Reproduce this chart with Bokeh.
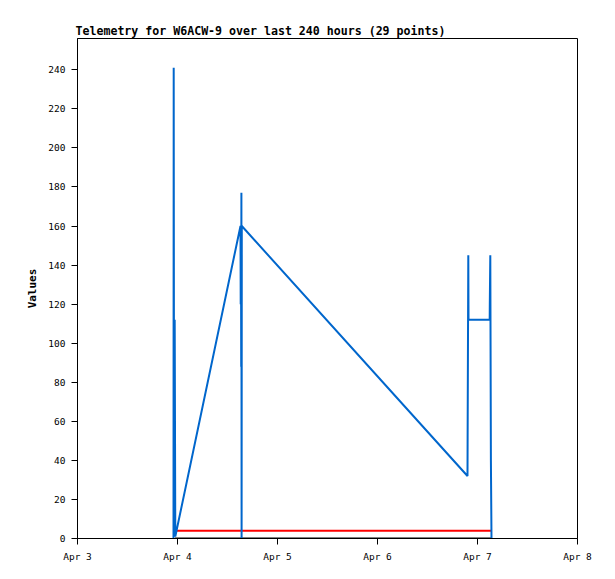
from datetime import datetime, timedelta
from bokeh.plotting import figure
from bokeh.models import FixedTicker, DatetimeTickFormatter, Range1d
from bokeh.embed import file_html
from bokeh.resources import INLINE

base = datetime(2024, 4, 3)

# blue series: (days after Apr 3 00:00, value)
blue_days = [0.960, 0.962, 0.966, 0.972, 0.978, 1.630, 1.632, 1.635, 1.637, 1.639, 1.641, 1.643,
             3.900, 3.901, 3.908, 3.910, 4.122, 4.123, 4.128, 4.134, 4.140]
blue_vals = [0, 241, 1, 112, 1, 160, 120, 160, 88, 177, 0, 160,
             32, 48, 145, 112, 112, 120, 145, 40, 0]

red_days = [0.990, 4.140]
red_vals = [4, 4]

black_days = [0.975, 4.140]
black_vals = [0, 0]

tick_days = [0, 1, 2, 3, 4, 5]
y_ticks = [0, 20, 40, 60, 80, 100, 120, 140, 160, 180, 200, 220, 240]

def to_dt(days):
    return [base + timedelta(days=d) for d in days]

def ms(d):
    return (base + timedelta(days=d) - datetime(1970, 1, 1)).total_seconds() * 1000

p = figure(width=600, height=571, output_backend="svg", toolbar_location=None,
           x_axis_type="datetime",
           x_range=Range1d(ms(0), ms(5)), y_range=Range1d(0, 256),
           min_border_left=77, min_border_right=23, min_border_top=38, min_border_bottom=33,
           title="Telemetry for W6ACW-9 over last 240 hours (29 points)")

p.line(to_dt(black_days), black_vals, line_color="black", line_width=2)
p.line(to_dt(red_days), red_vals, line_color="#FF0000", line_width=2)
p.line(to_dt(blue_days), blue_vals, line_color="#0066CC", line_width=2)

p.title.text_font = "DejaVu Sans Mono"
p.title.text_font_size = "11.6px"
p.title.text_font_style = "bold"
p.title.text_color = "black"
p.title.align = "left"
p.title.offset = -2
p.title.standoff = 2

p.xgrid.visible = False
p.ygrid.visible = False
p.outline_line_color = "black"
p.outline_line_width = 1
p.outline_line_alpha = 1.0
p.background_fill_color = "white"
p.border_fill_color = "white"

p.xaxis.ticker = FixedTicker(ticks=[ms(d) for d in tick_days])
p.xaxis.formatter = DatetimeTickFormatter(days="%b %-d", months="%b %-d", hours="%b %-d")
p.yaxis.ticker = FixedTicker(ticks=y_ticks)
p.yaxis.axis_label = "Values"

for ax in (p.xaxis[0], p.yaxis[0]):
    ax.major_label_text_font = "DejaVu Sans Mono"
    ax.major_label_text_font_size = "9.5px"
    ax.major_label_text_color = "black"
    ax.major_tick_out = 6
    ax.major_tick_in = 0
    ax.minor_tick_out = 0
    ax.minor_tick_in = 0
    ax.axis_line_color = "black"
    ax.major_tick_line_color = "black"
    ax.major_label_standoff = 6

p.yaxis.axis_label_text_font = "DejaVu Sans Mono"
p.yaxis.axis_label_text_font_size = "11px"
p.yaxis.axis_label_text_font_style = "bold"
p.yaxis.axis_label_text_color = "black"
p.yaxis.axis_label_standoff = 6

open("out.html", "w").write(file_html(p, INLINE))
